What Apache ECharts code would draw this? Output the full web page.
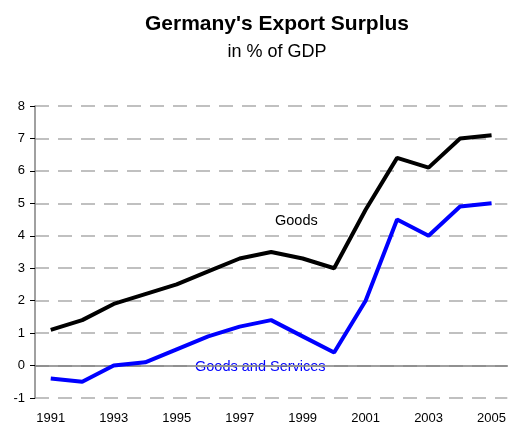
<!DOCTYPE html>
<html>
<head>
<meta charset="utf-8">
<script src="https://cdn.jsdelivr.net/npm/echarts@6/dist/echarts.min.js"></script>
<style>
  html, body { margin: 0; padding: 0; background: #fff; }
  #chart { width: 509px; height: 430px; }
</style>
</head>
<body>
<div id="chart"></div>
<script>
// Germany's export surplus, % of GDP
const years = ['1991','1992','1993','1994','1995','1996','1997','1998','1999','2000','2001','2002','2003','2004','2005'];
const goods = [1.1, 1.4, 1.9, 2.2, 2.5, 2.9, 3.3, 3.5, 3.3, 3.0, 4.8, 6.4, 6.1, 7.0, 7.1];
const goodsAndServices = [-0.4, -0.5, 0.0, 0.1, 0.5, 0.9, 1.2, 1.4, 0.9, 0.4, 2.0, 4.5, 4.0, 4.9, 5.0];

const FONT = '"Liberation Sans", Arial, sans-serif';
const chart = echarts.init(document.getElementById('chart'), null, { renderer: 'canvas' });

chart.setOption({
  backgroundColor: '#ffffff',
  animation: false,
  title: {
    text: "Germany's Export Surplus",
    subtext: 'in % of GDP',
    left: 272,
    textAlign: 'center',
    top: 9,
    itemGap: 8,
    textStyle: { fontFamily: FONT, fontSize: 21, fontWeight: 'bold', color: '#000' },
    subtextStyle: { fontFamily: FONT, fontSize: 18, color: '#000' }
  },
  grid: { left: 35, right: 1, top: 106, bottom: 32 },
  xAxis: {
    type: 'category',
    data: years,
    boundaryGap: true,
    axisLine: { lineStyle: { color: '#808080', width: 1.5 } },
    axisTick: { interval: 0, length: 5, lineStyle: { color: '#000' } },
    axisLabel: { interval: 1, margin: 14, fontFamily: FONT, fontSize: 13, color: '#000' },
    splitLine: { show: false }
  },
  yAxis: {
    type: 'value',
    min: -1, max: 8, interval: 1,
    axisLine: { show: true, lineStyle: { color: '#808080', width: 1.5 } },
    axisTick: { show: true, length: 5, lineStyle: { color: '#000' } },
    axisLabel: { margin: 10, fontFamily: FONT, fontSize: 13, color: '#000' },
    splitLine: { lineStyle: { color: '#c0c0c0', width: 2, type: [14, 9] } }
  },
  series: [
    {
      name: 'Goods',
      type: 'line',
      data: goods,
      showSymbol: false,
      lineStyle: { color: '#000000', width: 4 },
      z: 3
    },
    {
      name: 'Goods and Services',
      type: 'line',
      data: goodsAndServices,
      showSymbol: false,
      lineStyle: { color: '#0000ff', width: 4 },
      z: 3
    }
  ],
  graphic: [
    {
      type: 'text', left: 275, top: 213,
      style: { text: 'Goods', fontFamily: FONT, fontSize: 14.5, fill: '#000' }
    },
    {
      type: 'text', left: 195, top: 359,
      style: { text: 'Goods and Services', fontFamily: FONT, fontSize: 14.5, fill: '#0000ff' }
    }
  ]
});
</script>
</body>
</html>
